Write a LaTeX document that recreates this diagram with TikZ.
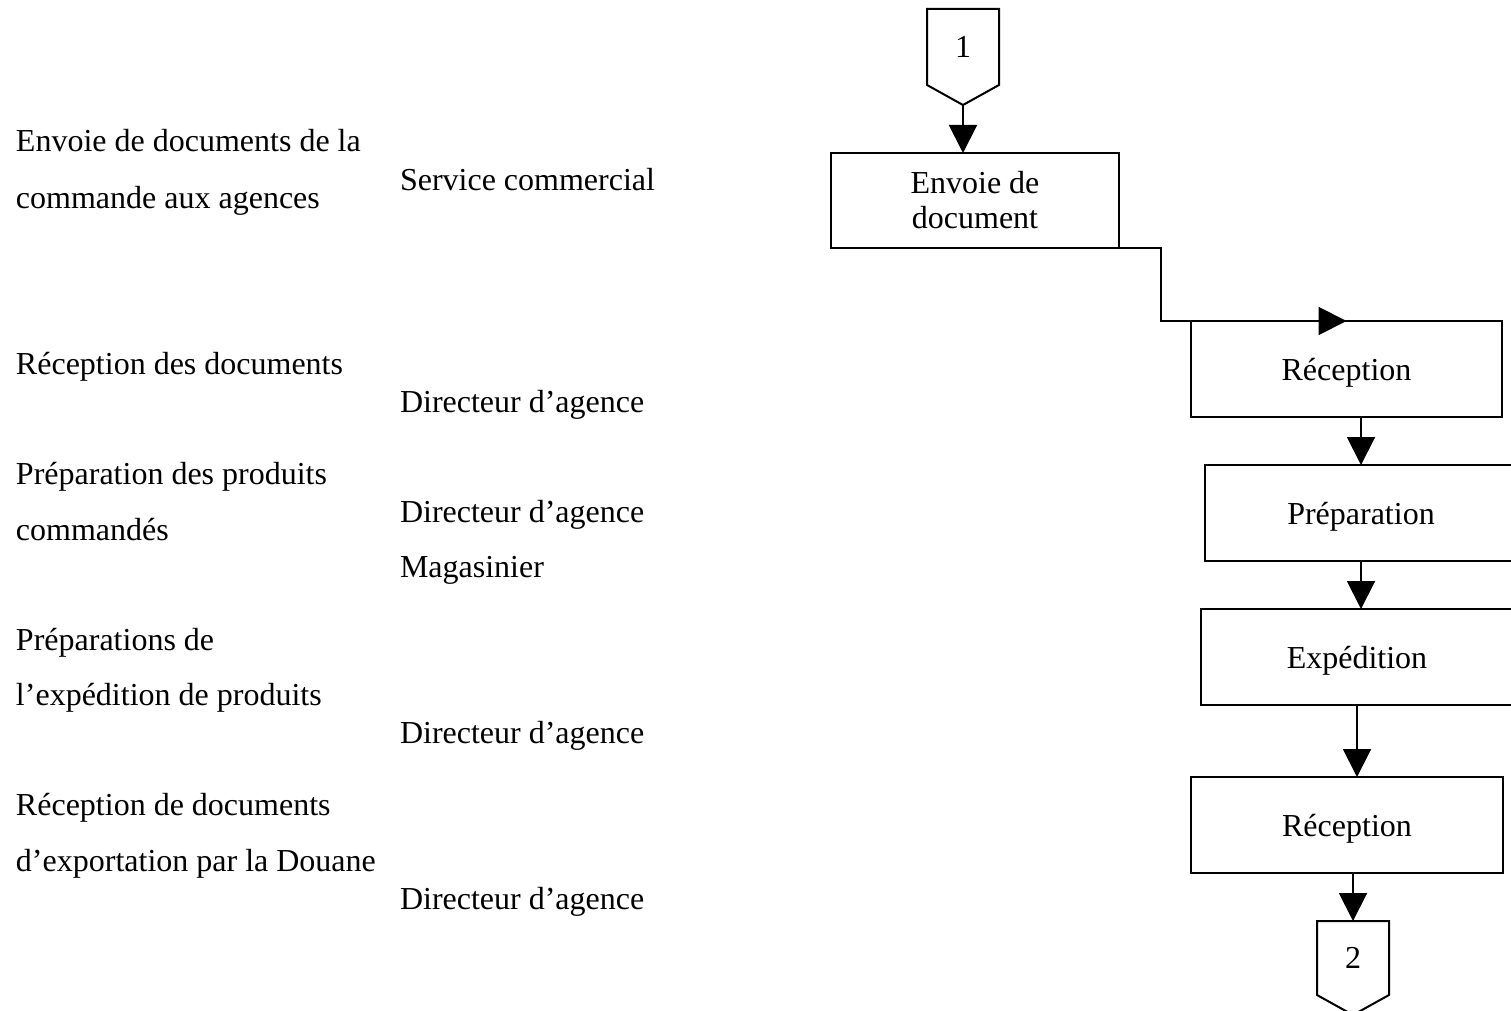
\documentclass[tikz,border=0pt]{standalone}
\usepackage{fontspec}
\setmainfont{Liberation Serif}
\usetikzlibrary{arrows.meta,calc}
\begin{document}
\begin{tikzpicture}[x=0.5pt,y=-0.5pt,
  every node/.style={font=\fontsize{16}{17.5}\selectfont, inner sep=0pt, outer sep=0pt},
  lefttxt/.style={anchor=base west},
  stepbox/.style={draw, line width=1pt, align=center, minimum height=48pt},
  oneline/.style={text height=11.5pt, text depth=0pt},
  pagecon/.style={minimum width=36pt},
  arr/.style={line width=1pt, -{Triangle[length=14pt,width=14pt]}}]
\clip (0,0) rectangle (1511,1011);
\fill[white] (0,0) rectangle (1511,1011);

% activity descriptions
\node[lefttxt] (t1a) at (16,152) {Envoie de documents de la};
\node[lefttxt] (t1b) at (16,208) {commande aux agences};
\node[lefttxt] (t2)  at (16,374) {Réception des documents};
\node[lefttxt] (t3a) at (16,484) {Préparation des produits};
\node[lefttxt] (t3b) at (16,540) {commandés};
\node[lefttxt] (t4a) at (16,650) {Préparations de};
\node[lefttxt] (t4b) at (16,705) {l’expédition de produits};
\node[lefttxt] (t5a) at (16,815) {Réception de documents};
\node[lefttxt] (t5b) at (16,871) {d’exportation par la Douane};

% responsible actors
\node[lefttxt] (a1)  at (400,191) {Service commercial};
\node[lefttxt] (a2)  at (400,412) {Directeur d’agence};
\node[lefttxt] (a3a) at (400,522) {Directeur d’agence};
\node[lefttxt] (a3b) at (400,577) {Magasinier};
\node[lefttxt] (a4)  at (400,743) {Directeur d’agence};
\node[lefttxt] (a5)  at (400,909) {Directeur d’agence};

% off-page connector 1
\node[pagecon, minimum height=38pt] (c1) at (963,47) {1};
\coordinate (c1tip) at ($(c1.south)+(0,20)$);
\draw[line width=1pt, line join=miter] (c1.south west) -- (c1.north west) -- (c1.north east)
  -- (c1.south east) -- (c1tip) -- cycle;

% process steps
\node[stepbox, minimum width=144pt, minimum height=47.5pt] (env) at (975,200.5) {Envoie de\\document};
\node[stepbox, oneline, minimum width=155.5pt] (rec1) at (1346.5,369) {Réception};
\node[stepbox, oneline, minimum width=156pt] (prep) at (1361,513) {Préparation};
\node[stepbox, oneline, minimum width=156pt] (exp) at (1357,657) {Expédition};
\node[stepbox, oneline, minimum width=156pt] (rec2) at (1347,825) {Réception};

% off-page connector 2
\node[pagecon, minimum height=37pt] (c2) at (1353,958) {2};
\coordinate (c2tip) at ($(c2.south)+(0,20)$);
\draw[line width=1pt, line join=miter] (c2.south west) -- (c2.north west) -- (c2.north east)
  -- (c2.south east) -- (c2tip) -- cycle;

% flow
\draw[arr] (c1tip) -- (c1tip |- env.north);
\draw[arr] (env.south east) -- ++(42,0) |- (rec1.north);
\draw[arr] (rec1.south -| prep.north) -- (prep.north);
\draw[arr] (prep.south) -- (prep.south |- exp.north);
\draw[arr] (exp.south) -- (exp.south |- rec2.north);
\draw[arr] (rec2.south -| c2.north) -- (c2.north);
\end{tikzpicture}
\end{document}
